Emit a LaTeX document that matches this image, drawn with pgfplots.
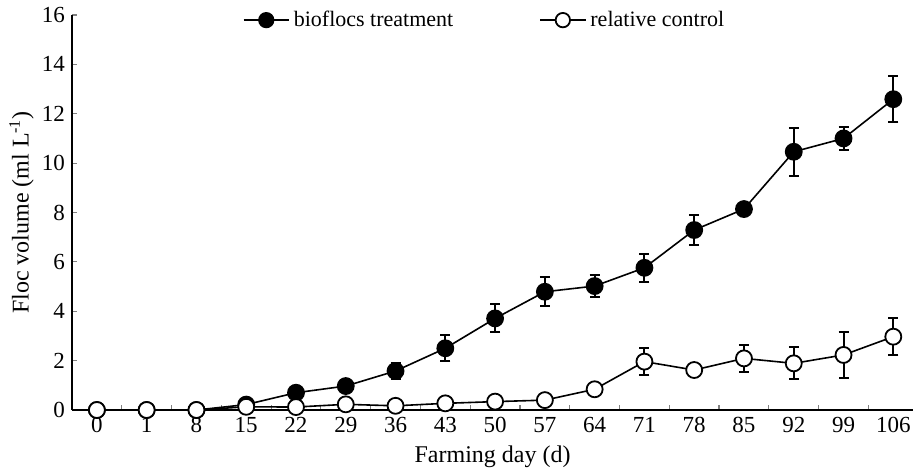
\documentclass[border=0pt]{standalone}
\usepackage{fontspec}
\setmainfont{Liberation Serif}
\usepackage{pgfplots}
\pgfplotsset{compat=1.18}
\usepackage{pgfplotstable}

\pgfplotstableread{
x y ey
0 0 0
1 0 0
2 0 0
3 0.22 0
4 0.70 0
5 0.97 0
6 1.58 0.33
7 2.50 0.53
8 3.71 0.57
9 4.79 0.58
10 5.02 0.43
11 5.76 0.56
12 7.29 0.60
13 8.14 0.15
14 10.46 0.98
15 11.00 0.47
16 12.59 0.93
}\bio

\pgfplotstableread{
x y ey
0 0 0
1 0 0
2 0 0
3 0.13 0
4 0.12 0
5 0.23 0
6 0.17 0
7 0.27 0
8 0.34 0
9 0.40 0
10 0.84 0
11 1.96 0.54
12 1.62 0
13 2.09 0.54
14 1.89 0.65
15 2.23 0.92
16 2.97 0.74
}\ctrl

\begin{document}
\begin{tikzpicture}
\begin{axis}[
  scale only axis,
  width=420.6pt, height=197.5pt,
  xmin=-0.5, xmax=16.4,
  ymin=0, ymax=16,
  clip=false,
  axis x line=bottom, axis y line=left,
  axis line style={-, line width=0.6pt},
  xtick={0,...,16},
  xticklabels={0,1,8,15,22,29,36,43,50,57,64,71,78,85,92,99,106},
  minor x tick num=1,
  ytick={0,2,...,16},
  tick align=inside,
  major tick length=2.5pt,
  minor tick length=2.5pt,
  major x tick style={draw=none},
  y tick style={line width=0.6pt},
  minor tick style={line width=0.6pt},
  /pgf/number format/assume math mode=true,
  tick label style={font=\fontsize{11.5}{13}\selectfont},
  xlabel={Farming day (d)},
  ylabel={Floc volume (ml L\textsuperscript{-1})},
  label style={font=\fontsize{12}{14}\selectfont},
  xlabel style={at={(axis description cs:0.5,0)}, anchor=center, yshift=-23.5pt},
  ylabel style={at={(axis description cs:-0.06,0.5)}, anchor=center},
  legend columns=2,
  legend style={draw=none, fill=none, at={(0.4915,0.987)}, anchor=center,
    font=\fontsize{11}{13}\selectfont,
    /tikz/every even column/.append style={column sep=41pt}},
  legend image code/.code={
    \draw[mark repeat=2, mark phase=2, #1, mark size=3.6pt] plot coordinates {(0cm,0cm) (0.4cm,0cm) (0.8cm,0cm)};
  },
]
\coordinate (O) at (rel axis cs:0,0);
\addplot[black, line width=0.8pt, mark=*, mark size=4pt,
  mark options={fill=black, line width=0.9pt},
  error bars/.cd, y dir=both, y explicit,
  error bar style={line width=1pt, black},
  error mark options={rotate=90, mark size=2.5pt, line width=1pt, black}]
  table[x=x, y=y, y error=ey] {\bio};
\addlegendentry{bioflocs treatment}
\addplot[black, line width=0.8pt, mark=*, mark size=4pt,
  mark options={fill=white, line width=0.9pt},
  error bars/.cd, y dir=both, y explicit,
  error bar style={line width=1pt, black},
  error mark options={rotate=90, mark size=2.5pt, line width=1pt, black}]
  table[x=x, y=y, y error=ey] {\ctrl};
\addlegendentry{relative control}
\end{axis}
\pgfresetboundingbox
\path[use as bounding box] ([shift={(-36pt,-31pt)}]O) rectangle ++(457pt,236pt);
\end{tikzpicture}
\end{document}
